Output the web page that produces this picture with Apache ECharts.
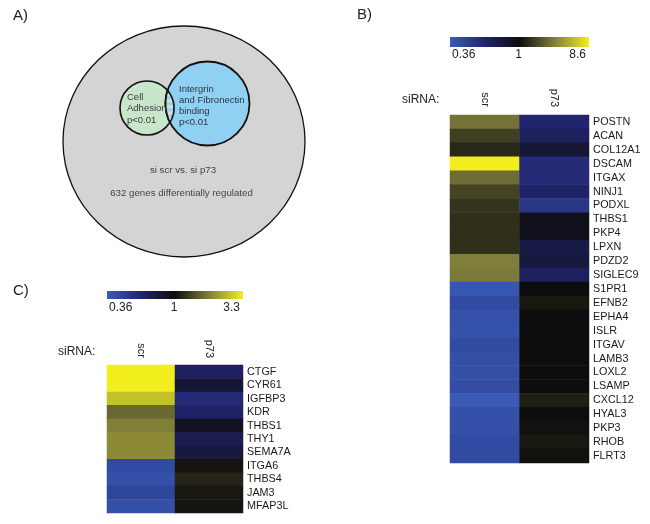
<!DOCTYPE html>
<html>
<head>
<meta charset="utf-8">
<script src="https://cdn.jsdelivr.net/npm/echarts@6/dist/echarts.min.js"></script>
<style>html,body{margin:0;padding:0;background:#fff;}#main{width:650px;height:524px;}</style>
</head>
<body>
<div id="main"></div>
<script>
// ---- data ----
const conditions = ['scr', 'p73'];
const genesB = ['POSTN','ACAN','COL12A1','DSCAM','ITGAX','NINJ1','PODXL','THBS1','PKP4','LPXN','PDZD2','SIGLEC9','S1PR1','EFNB2','EPHA4','ISLR','ITGAV','LAMB3','LOXL2','LSAMP','CXCL12','HYAL3','PKP3','RHOB','FLRT3'];
const scrB = [2.63,1.61,1.29,8.6,2.47,1.68,1.44,1.38,1.38,1.38,2.93,2.81,0.379,0.42,0.399,0.391,0.42,0.407,0.407,0.415,0.371,0.40,0.40,0.42,0.42];
const p73B = [0.60,0.66,0.82,0.57,0.57,0.63,0.51,0.92,0.92,0.74,0.77,0.66,1.0,1.11,0.98,0.98,1.0,1.0,1.0,1.0,1.19,1.0,1.04,1.11,1.04];
const genesC = ['CTGF','CYR61','IGFBP3','KDR','THBS1','THY1','SEMA7A','ITGA6','THBS4','JAM3','MFAP3L'];
const scrC = [3.3,3.3,2.60,1.61,1.82,1.93,1.93,0.42,0.40,0.44,0.40];
const p73C = [0.66,0.82,0.57,0.63,0.90,0.70,0.77,1.04,1.13,1.06,1.04];
const scaleB = [0.36, 1, 8.6];
const scaleC = [0.36, 1, 3.3];
const scaleLabelsB = ['0.36', '1', '8.6'];
const scaleLabelsC = ['0.36', '1', '3.3'];
const vennTexts = ['Cell\nAdhesion\np<0.01', 'Intergrin\nand Fibronectin\nbinding\np<0.01', 'si scr vs. si p73', '632 genes differentially regulated'];

// ---- helpers ----
const FONT = "'Liberation Sans', Arial, sans-serif";
const stops = ['#3a5cb8', '#21246f', '#0d0d0d', '#807f3a', '#f2ee1e'];
function toT(v, sc) {
  if (v >= 1) return Math.log(v) / Math.log(sc[2]);
  return -Math.log(v) / Math.log(sc[0]);
}
function heatData(scr, p73, sc) {
  const d = [];
  scr.forEach((v, i) => d.push([0, i, toT(v, sc)]));
  p73.forEach((v, i) => d.push([1, i, toT(v, sc)]));
  return d;
}
function grad() {
  return new echarts.graphic.LinearGradient(0, 0, 1, 0, stops.map((c, i) => ({offset: i / (stops.length - 1), color: c})));
}

// lens geometry (overlap of the two small circles)
const c1 = {x: 147, y: 108, r: 27};
const c2 = {x: 207.5, y: 103.5, r: 42};
function lensGeom() {
  const dx = c2.x - c1.x, dy = c2.y - c1.y;
  const d = Math.sqrt(dx * dx + dy * dy);
  const a = (d * d + c1.r * c1.r - c2.r * c2.r) / (2 * d);
  const h = Math.sqrt(c1.r * c1.r - a * a);
  const mx = c1.x + a * dx / d, my = c1.y + a * dy / d;
  return {P: [mx + h * dy / d, my - h * dx / d], Q: [mx - h * dy / d, my + h * dx / d]};
}
function leftX(y) { const t = c2.r * c2.r - (y - c2.y) * (y - c2.y); return c2.x - Math.sqrt(Math.max(0, t)); }
function rightX(y) { const t = c1.r * c1.r - (y - c1.y) * (y - c1.y); return c1.x + Math.sqrt(Math.max(0, t)); }
function lensStripes() {
  const g = lensGeom();
  const yTop = Math.min(g.P[1], g.Q[1]), yBot = Math.max(g.P[1], g.Q[1]);
  const els = [];
  let k = 0;
  for (let y0 = yTop; y0 < yBot; y0 += 3, k++) {
    const y1 = Math.min(yBot, y0 + 3);
    const pts = [];
    const n = 4;
    for (let i = 0; i <= n; i++) { const y = y0 + (y1 - y0) * i / n; pts.push([Math.min(leftX(y), rightX(y)), y]); }
    for (let i = n; i >= 0; i--) { const y = y0 + (y1 - y0) * i / n; pts.push([Math.max(leftX(y), rightX(y)), y]); }
    els.push({type: 'polygon', shape: {points: pts}, style: {fill: k % 2 ? '#cfe8cf' : '#9fd3f0', stroke: null}});
  }
  return els;
}
function arcPts(c, from, to) {
  const a0 = Math.atan2(from[1] - c.y, from[0] - c.x);
  const a1 = Math.atan2(to[1] - c.y, to[0] - c.x);
  let diff = a1 - a0;
  while (diff > Math.PI) diff -= 2 * Math.PI;
  while (diff < -Math.PI) diff += 2 * Math.PI;
  const pts = [];
  for (let i = 0; i <= 24; i++) { const ang = a0 + diff * i / 24; pts.push([c.x + c.r * Math.cos(ang), c.y + c.r * Math.sin(ang)]); }
  return pts;
}

function colorbar(x, y, w, h, labels, ly) {
  return [
    {type: 'rect', shape: {x: x, y: y, width: w, height: h}, style: {fill: grad()}},
    {type: 'text', x: x + 2, y: ly, style: {text: labels[0], font: '12px ' + FONT, fill: '#222', align: 'left', verticalAlign: 'middle'}},
    {type: 'text', x: x + w / 2 - 1, y: ly, style: {text: labels[1], font: '12px ' + FONT, fill: '#222', align: 'center', verticalAlign: 'middle'}},
    {type: 'text', x: x + w - 3, y: ly, style: {text: labels[2], font: '12px ' + FONT, fill: '#222', align: 'right', verticalAlign: 'middle'}}
  ];
}
function txt(x, y, s, size, extra) {
  return {type: 'text', x: x, y: y, style: Object.assign({text: s, font: size + 'px ' + FONT, fill: '#222', align: 'left', verticalAlign: 'middle'}, extra || {})};
}

const chart = echarts.init(document.getElementById('main'), null, {renderer: 'canvas'});

const axisCommon = {
  axisLine: {show: false}, axisTick: {show: false}, splitLine: {show: false}
};
const lg = lensGeom();

const option = {
  backgroundColor: '#fff',
  animation: false,
  grid: [
    {left: 450, top: 115, width: 139, height: 348},
    {left: 107, top: 365, width: 136, height: 148}
  ],
  xAxis: [
    Object.assign({type: 'category', gridIndex: 0, data: conditions, position: 'top',
      axisLabel: {rotate: 90, margin: 8, interval: 0, fontSize: 11, fontFamily: FONT, color: '#222'}}, axisCommon),
    Object.assign({type: 'category', gridIndex: 1, data: conditions, position: 'top',
      axisLabel: {rotate: 90, margin: 7, interval: 0, fontSize: 11, fontFamily: FONT, color: '#222'}}, axisCommon)
  ],
  yAxis: [
    Object.assign({type: 'category', gridIndex: 0, data: genesB, inverse: true, position: 'right',
      axisLabel: {margin: 4, interval: 0, fontSize: 10.8, fontFamily: FONT, color: '#1a1a1a'}}, axisCommon),
    Object.assign({type: 'category', gridIndex: 1, data: genesC, inverse: true, position: 'right',
      axisLabel: {margin: 4, interval: 0, fontSize: 10.8, fontFamily: FONT, color: '#1a1a1a'}}, axisCommon)
  ],
  visualMap: [{
    type: 'continuous', show: false, min: -1, max: 1, dimension: 2, seriesIndex: [0, 1],
    inRange: {color: stops}
  }],
  series: [
    {type: 'heatmap', xAxisIndex: 0, yAxisIndex: 0, data: heatData(scrB, p73B, scaleB), emphasis: {disabled: true}, itemStyle: {borderWidth: 0}},
    {type: 'heatmap', xAxisIndex: 1, yAxisIndex: 1, data: heatData(scrC, p73C, scaleC), emphasis: {disabled: true}, itemStyle: {borderWidth: 0}}
  ],
  graphic: [].concat(
    [
      txt(13, 16, 'A)', 15),
      txt(357, 15, 'B)', 15),
      txt(13, 291, 'C)', 15),
      {type: 'ellipse', shape: {cx: 184, cy: 141.5, rx: 121, ry: 115.5}, style: {fill: '#d4d4d4', stroke: '#111', lineWidth: 1.3}},
      {type: 'circle', shape: {cx: c1.x, cy: c1.y, r: c1.r}, style: {fill: '#c8e6c9', stroke: '#111', lineWidth: 1.6}},
      {type: 'circle', shape: {cx: c2.x, cy: c2.y, r: c2.r}, style: {fill: '#8fd0f3', stroke: '#111', lineWidth: 1.8}}
    ],
    lensStripes(),
    [
      {type: 'polyline', shape: {points: arcPts(c1, lg.P, lg.Q)}, style: {stroke: '#111', lineWidth: 1.6, fill: null}},
      {type: 'polyline', shape: {points: arcPts(c2, lg.Q, lg.P)}, style: {stroke: '#111', lineWidth: 1.8, fill: null}},
      txt(127, 108.5, vennTexts[0], 9.5, {fill: '#3a3a3a', lineHeight: 11.5}),
      txt(179, 105.5, vennTexts[1], 9.5, {fill: '#2a3440', lineHeight: 11}),
      txt(183, 170, vennTexts[2], 9.7, {fill: '#444', align: 'center'}),
      txt(181.5, 193.5, vennTexts[3], 9.7, {fill: '#444', align: 'center'}),
      txt(402, 100, 'siRNA:', 12),
      txt(58, 352, 'siRNA:', 12)
    ],
    colorbar(450, 37, 139, 10, scaleLabelsB, 54.5),
    colorbar(107, 291, 136, 8, scaleLabelsC, 307.5)
  )
};
chart.setOption(option);
</script>
</body>
</html>
